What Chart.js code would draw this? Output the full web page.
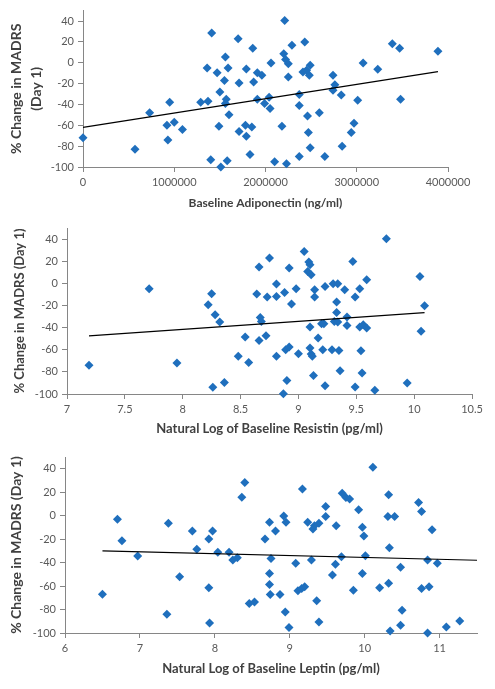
<!DOCTYPE html>
<html>
<head>
<meta charset="utf-8">
<script src="https://cdn.jsdelivr.net/npm/chart.js@4"></script>
<style>
  body { margin: 0; background: #fff; }
  canvas { position: absolute; left: 0; }
</style>
</head>
<body>
<canvas id="c1" width="495" height="215" style="top:0px"></canvas>
<canvas id="c2" width="495" height="225" style="top:215px"></canvas>
<canvas id="c3" width="495" height="249" style="top:440px"></canvas>
<script>
// --- data ---
const yTicks = [-100, -80, -60, -40, -20, 0, 20, 40];

// chart 1: adiponectin
const adipX = [0, 570000, 730000, 950000, 920000, 930000, 1000000, 1090000, 1290000, 1370000,
  1360000, 1410000, 1400000, 1470000, 1500000, 1490000, 1510000, 1560000, 1550000, 1570000,
  1560000, 1590000, 1600000, 1580000, 1700000, 1710000, 1710000, 1780000, 1790000, 1790000,
  1830000, 1860000, 2210000, 2290000, 2430000, 2200000, 2220000, 2250000, 2060000, 1910000,
  1960000, 1870000, 2250000, 2490000, 2450000, 2410000, 2480000, 3070000, 3230000, 3390000,
  3470000, 3890000, 2740000, 2760000, 2740000, 2830000, 3010000, 3480000, 2370000, 2370000,
  1910000, 2040000, 1990000, 2050000, 2590000, 2460000, 1850000, 2180000, 2970000, 2940000,
  2470000, 2490000, 2840000, 2370000, 2650000, 2100000, 2230000];
const adipY = [-72, -83, -48, -38, -60, -74, -57, -64, -38, -37,
  -5, 28.5, -93, -9.5, -28, -61, -100, 5.5, -17, -35,
  -39, -5, -50, -94, 23, -19.5, -66, -60, -70.5, -6,
  -88, 14, 40.6, 16.7, 20, 8.7, 3, -1, -0.3, -9.5,
  -12, -18.5, -13.7, -2.5, -7.3, -9, -12, -0.3, -6.3, 18.3,
  14, 11, -12, -21, -26.5, -31, -36, -35, -30.5, -41,
  -35, -33, -39, -44, -48, -51, -61.6, -61, -58, -67,
  -67, -81.5, -80, -90, -90, -95, -97];
const adipTrendX = [0, 3890000];
const adipTrendY = [-62, -8.5];
const adipTicks = [0, 1000000, 2000000, 3000000, 4000000];

// chart 2: resistin (ln)
const resX = [7.19, 7.71, 7.95, 8.25, 8.22, 8.28, 8.32, 8.54, 8.48, 8.57, 8.36, 8.26,
  9.76, 9.05, 8.75, 8.66, 8.92, 9.09, 9.10, 9.08, 9.11, 9.47, 9.59, 10.05, 8.81, 8.98,
  9.14, 9.23, 9.30, 9.34, 9.40, 9.53, 8.88, 8.64, 8.73, 8.81, 9.14, 9.49, 8.94, 9.33,
  10.09, 9.33, 8.67, 8.68, 9.42, 9.31, 9.34, 9.20, 9.22, 9.42, 9.10, 9.53, 9.56, 9.59,
  10.06, 8.72, 8.66, 9.17, 8.89, 8.92, 9.00, 9.10, 9.11, 9.12, 9.21, 9.29, 9.35, 9.54,
  8.81, 9.36, 9.13, 9.55, 8.90, 9.23, 9.49, 9.66, 9.94, 8.87];
const resY = [-74, -5, -72, -9.4, -19.3, -28.4, -35, -48.5, -66, -71.5, -89.5, -94,
  40.3, 28.8, 22.8, 14.7, 13.8, 19.2, 16.8, 10.7, 7.8, 19.8, 3.2, 6.2, -0.6, -5,
  -5.8, -2.8, -0.4, -0.4, -5.8, -5, -8.2, -9.7, -12.4, -11.8, -12.4, -12.4, -18.7, -16.9,
  -20.2, -26.3, -30.8, -34.4, -30.4, -34.4, -35, -36.5, -36.5, -38, -39.5, -39.5, -37.4, -40.4,
  -43.4, -47.3, -51.6, -49.4, -60, -57.5, -63.6, -58.5, -63.9, -66, -60, -60, -60.6, -60.9,
  -66, -79, -83.2, -81, -87.7, -92.5, -93.7, -96.7, -90, -99.7];
const resTrendX = [7.19, 10.09];
const resTrendY = [-47.5, -26.5];
const resTicks = [7, 7.5, 8, 8.5, 9, 9.5, 10, 10.5];

// chart 3: leptin (ln)
const lepX = [6.50, 6.70, 6.76, 6.97, 7.38, 7.53, 7.36, 7.70, 7.76, 7.97, 7.92, 7.92, 7.93,
  8.04, 8.19, 8.24, 8.30, 8.40, 8.36, 8.46, 8.53,
  10.11, 9.17, 9.70, 9.75, 9.80, 10.32, 10.72, 10.76, 9.48, 9.92, 9.48, 10.31, 10.40, 8.92,
  8.95, 8.73, 9.24, 9.39, 9.33, 9.31, 9.62, 9.97, 9.99, 10.90, 8.81, 8.67, 10.33, 8.75,
  9.08, 9.29, 9.69, 10.01, 9.61, 10.84, 10.97, 10.48, 8.73, 9.57, 9.97, 8.73, 8.74, 8.87,
  9.11, 9.16, 9.20, 9.36, 9.85, 10.20, 10.32, 10.76, 10.86, 8.94, 10.50, 9.39, 8.99, 10.34,
  10.48, 10.84, 11.09, 11.27];
const lepY = [-67, -3, -21.3, -34.4, -6.4, -52, -84, -13, -28.7, -13, -19.8, -61.5, -91.4,
  -31.2, -31.2, -37.8, -35.8, 28.3, 15.8, -74.9, -73.5,
  41.2, 22.7, 19.2, 15.5, 14.1, 17.8, 11.2, 3.5, 7.8, 5, -0.8, -0.8, -0.8, -0.2,
  -5.6, -5.6, -5.6, -6.4, -8.7, -11.3, -8.7, -9.8, -17.3, -12.1, -13, -19.8, -27.3, -36.4,
  -40.6, -37.8, -35, -34.1, -41.5, -37.8, -40.6, -44, -49.2, -50.6, -49.2, -58.6, -67.2, -67.2,
  -64, -62, -60.6, -72.6, -63.5, -61.5, -57.7, -62, -60.6, -82, -80.6, -90.6, -95.4, -98.3,
  -93.4, -100, -94.9, -89.7];
const lepTrendX = [6.5, 11.5];
const lepTrendY = [-30, -38];
const lepTicks = [6, 7, 8, 9, 10, 11];

// --- drawing ---
const blue = '#1f6fbd';
const axisGray = '#868686';
const font = 'Lato, "Open Sans", sans-serif';

function pts(xs, ys) {
  return xs.map((x, i) => ({ x: x, y: ys[i] }));
}

function drawScatter(id, o) {
  new Chart(document.getElementById(id), {
    type: 'scatter',
    data: {
      datasets: [
        {
          data: pts(o.tx, o.ty), showLine: true, borderColor: '#000', borderWidth: 1.2,
          pointRadius: 0, clip: false
        },
        {
          data: pts(o.x, o.y), pointStyle: 'rectRot', pointRadius: 4.5,
          backgroundColor: blue, borderColor: blue, borderWidth: 0, clip: false
        }
      ]
    },
    options: {
      responsive: false,
      animation: false,
      layout: { padding: { top: o.top, right: o.right, left: 0, bottom: 0 } },
      plugins: { legend: { display: false }, tooltip: { enabled: false } },
      scales: {
        x: {
          type: 'linear', min: o.xMin, max: o.xMax,
          afterBuildTicks: s => { s.ticks = o.xTicks.map(v => ({ value: v })); },
          afterFit: s => { s.height = o.xH; },
          grid: { drawOnChartArea: false, tickLength: 5, color: axisGray },
          border: { color: axisGray },
          ticks: {
            color: '#595959', font: { family: font, size: 11 }, padding: 4,
            maxRotation: 0, autoSkip: false, callback: v => String(v)
          },
          title: {
            display: true, text: o.xTitle, color: '#404040',
            font: { family: font, size: o.xSize, weight: 'bold' },
            padding: { top: 0, bottom: o.xPad }
          }
        },
        y: {
          min: -100, max: 50,
          afterBuildTicks: s => { s.ticks = yTicks.map(v => ({ value: v })); },
          afterFit: s => { s.width = o.left; },
          grid: { drawOnChartArea: false, tickLength: 5, color: axisGray },
          border: { color: axisGray },
          ticks: {
            color: '#595959', font: { family: font, size: 11 }, padding: 4,
            autoSkip: false, callback: v => String(v)
          },
          title: {
            display: true, text: o.yTitle, color: '#404040',
            font: { family: font, size: o.ySize, weight: 'bold', lineHeight: 1.4 },
            padding: { top: o.yPad, bottom: 0 }
          }
        }
      }
    }
  });
}

drawScatter('c1', {
  x: adipX, y: adipY, tx: adipTrendX, ty: adipTrendY,
  xMin: 0, xMax: 4000000, xTicks: adipTicks,
  xTitle: 'Baseline Adiponectin (ng/ml)', xSize: 12, xPad: 5,
  yTitle: ['% Change in MADRS', '(Day 1)'], ySize: 14, yPad: 7,
  top: 10, right: 47, left: 83, xH: 48
});

drawScatter('c2', {
  x: resX, y: resY, tx: resTrendX, ty: resTrendY,
  xMin: 7, xMax: 10.5, xTicks: resTicks,
  xTitle: 'Natural Log of Baseline Resistin (pg/ml)', xSize: 13, xPad: 3,
  yTitle: '% Change in MADRS (Day 1)', ySize: 13, yPad: 11,
  top: 13, right: 23, left: 67, xH: 46
});

drawScatter('c3', {
  x: lepX, y: lepY, tx: lepTrendX, ty: lepTrendY,
  xMin: 6, xMax: 11.5, xTicks: lepTicks,
  xTitle: 'Natural Log of Baseline Leptin (pg/ml)', xSize: 13, xPad: 12,
  yTitle: '% Change in MADRS (Day 1)', ySize: 14, yPad: 7,
  top: 17, right: 18, left: 65, xH: 56
});
</script>
</body>
</html>
